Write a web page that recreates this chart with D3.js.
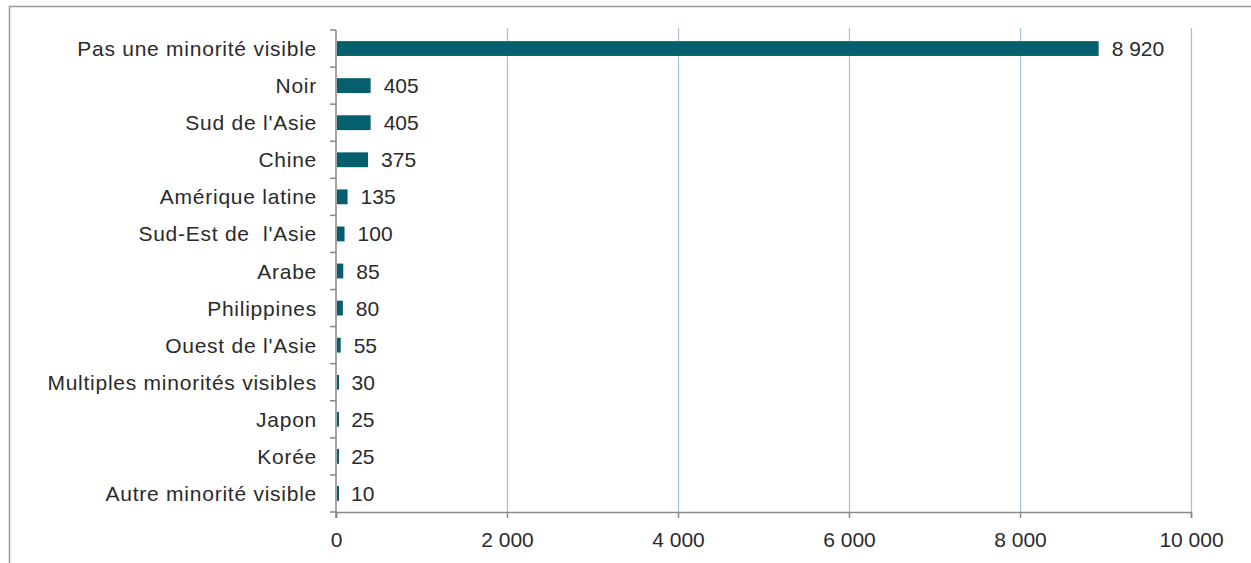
<!DOCTYPE html>
<html>
<head>
<meta charset="utf-8">
<script src="https://cdn.jsdelivr.net/npm/d3@7"></script>
<style>
  body { margin: 0; background: #fff; }
  svg text { font-family: "Liberation Sans", Arial, sans-serif; fill: #2a2a2a; white-space: pre; }
</style>
</head>
<body>
<svg></svg>
<script>
// data
const categories = ["Pas une minorité visible", "Noir", "Sud de l'Asie", "Chine", "Amérique latine",
  "Sud-Est de  l'Asie", "Arabe", "Philippines", "Ouest de l'Asie", "Multiples minorités visibles",
  "Japon", "Korée", "Autre minorité visible"];
const values = [8920, 405, 405, 375, 135, 100, 85, 80, 55, 30, 25, 25, 10];
const xTicks = [0, 2000, 4000, 6000, 8000, 10000];

const w = 1251;
const h = 563;
const plotLeft = 336, plotRight = 1191, plotTop = 30, plotBottom = 512;
const fontSize = 21;

let svg = d3.select("svg").attr("width", w).attr("height", h);

// frame round the chart (only top and left edges show)
svg.append("path")
  .attr("d", "M9.5," + (h + 2) + " V6.5 H" + (w + 2))
  .attr("fill", "none")
  .attr("stroke", "#999")
  .attr("stroke-width", 1.5);

let xScale = d3.scaleLinear().domain([0, 10000]).range([plotLeft, plotRight]);
let yScale = d3.scaleBand().domain(categories).range([plotTop, plotBottom]).paddingInner(0.6).paddingOuter(0.3);

const fmt = d => d3.format(",")(d).replace(/,/g, " ");

// vertical grid lines
svg.append("g")
  .selectAll("line")
  .data(xTicks.slice(1))
  .enter()
  .append("line")
  .attr("x1", d => Math.round(xScale(d)) + 0.5)
  .attr("x2", d => Math.round(xScale(d)) + 0.5)
  .attr("y1", plotTop - 2)
  .attr("y2", plotBottom)
  .attr("stroke", "#a7bedb")
  .attr("stroke-width", 1.2);

// bars
svg.selectAll("rect.bar")
  .data(values)
  .enter()
  .append("rect")
  .attr("class", "bar")
  .attr("x", plotLeft + 1)
  .attr("y", (d, i) => yScale(categories[i]))
  .attr("width", d => Math.max(xScale(d) - plotLeft - 1, 2))
  .attr("height", yScale.bandwidth())
  .attr("fill", "#065f6d");

// value labels
svg.selectAll("text.val")
  .data(values)
  .enter()
  .append("text")
  .attr("class", "val")
  .attr("x", d => Math.max(xScale(d) + 13, plotLeft + 15))
  .attr("y", (d, i) => yScale(categories[i]) + yScale.bandwidth() / 2)
  .attr("dy", "0.36em")
  .attr("font-size", fontSize)
  .text(d => fmt(d));

// x axis
let xAxis = d3.axisBottom(xScale).tickValues(xTicks).tickSize(6).tickPadding(14).tickFormat(fmt);
let gx = svg.append("g")
  .attr("transform", "translate(0," + plotBottom + ")")
  .call(xAxis);
gx.selectAll("text").attr("font-size", fontSize).attr("fill", "#2a2a2a").attr("font-family", null);
gx.attr("font-family", null);
gx.selectAll("line").attr("stroke", "#888").attr("stroke-width", 1.5);
gx.select(".domain").attr("stroke", "#888").attr("stroke-width", 1.5);

// y axis: ticks at the category boundaries
let yLine = d3.scaleLinear().domain([0, categories.length]).range([plotTop, plotBottom]);
let gy = svg.append("g").attr("transform", "translate(" + plotLeft + ",0)");
gy.append("line")
  .attr("x1", 0).attr("x2", 0)
  .attr("y1", plotTop).attr("y2", plotBottom + 6)
  .attr("stroke", "#888").attr("stroke-width", 1.5);
gy.selectAll("line.tk")
  .data(d3.range(categories.length + 1))
  .enter()
  .append("line")
  .attr("class", "tk")
  .attr("x1", -6).attr("x2", 0)
  .attr("y1", d => yLine(d)).attr("y2", d => yLine(d))
  .attr("stroke", "#888").attr("stroke-width", 1.5);
gy.selectAll("text")
  .data(categories)
  .enter()
  .append("text")
  .attr("x", -19)
  .attr("y", d => yScale(d) + yScale.bandwidth() / 2)
  .attr("dy", "0.36em")
  .attr("text-anchor", "end")
  .attr("font-size", fontSize)
  .attr("letter-spacing", 0.75)
  .text(d => d);
</script>
</body>
</html>
